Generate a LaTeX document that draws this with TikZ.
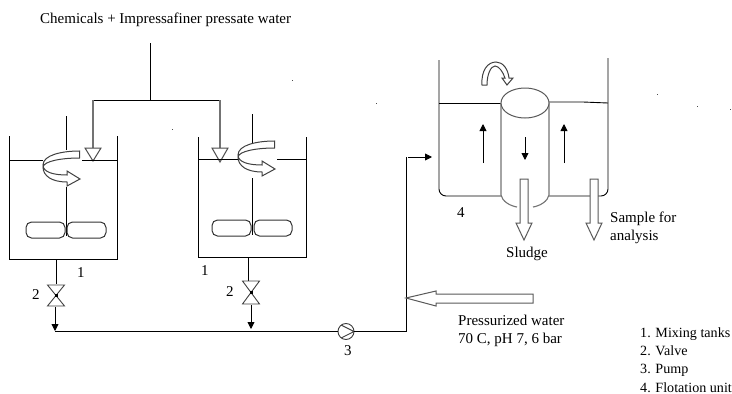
\documentclass[tikz,border=0pt]{standalone}
\usepackage{fontspec}
\setmainfont{Liberation Serif}
\usetikzlibrary{arrows.meta}
\tikzset{
  ln/.style={draw=black,line width=0.9pt},
  grayln/.style={draw=black!55,line width=1.1pt},
  flow/.style={ln,-{Triangle[length=7pt,width=7pt]}},
  hollow/.style={draw=black!65,line width=1pt,fill=white,line join=miter},
  lab/.style={anchor=base west,inner sep=0pt,font=\fontsize{15}{16}\selectfont},
  leg/.style={anchor=base west,inner sep=0pt,font=\fontsize{14.1}{16}\selectfont},
  imp/.style={draw=black!80,line width=1pt,fill=white,rounded corners=5.5pt}
}
\newcommand{\myswirl}[2]{%
  \begin{scope}[shift={(#1,#2)}]
    \path[hollow,draw=black!75] (-0.5,-28) .. controls (-18,-28) and (-37,-24) .. (-37,-14)
      .. controls (-37,-7) and (-27,-4) .. (-13,-4) -- (-13,-8) -- (0,0) -- (-13,7) -- (-13,3)
      .. controls (-28,3) and (-37,-3) .. (-37,-12)
      .. controls (-36,-18) and (-18,-21) .. (-0.5,-21) -- cycle;
  \end{scope}}
\newcommand{\myvalve}[3]{%
  \draw[hollow,draw=black!75,line width=0.9pt] (#1-8.5,#2) -- (#1+8.5,#2) -- (#1-8.5,#3) -- (#1+8.5,#3) -- cycle;
  \fill ({#1-1.5},{(#2+#3)/2-1.5}) rectangle ++(3,3);}
\newcommand{\myspeck}[2]{\fill[black!70] (#1,#2) rectangle ++(1,1);}
\begin{document}
\begin{tikzpicture}[x=1pt,y=-1pt]
\useasboundingbox (0,0) rectangle (732,394);
% title and feed lines
\node[lab] (title) at (40,23) {Chemicals + Impressafiner pressate water};
\coordinate (feedtop) at (150,43);
\coordinate (feedj) at (150,100);
\coordinate (fl) at (93,100);
\coordinate (fr) at (220,100);
\coordinate (fld) at (93,148);
\coordinate (frd) at (220,148);
\draw[ln] (feedtop) -- (feedj);
\draw[ln] (fl) -- (fr);
\draw[grayln] (fl) -- (fld);
\draw[grayln] (fr) -- (frd);
\draw[hollow,draw=black!70] (85,148) -- (101,148) -- (93,161) -- cycle;
\draw[hollow,draw=black!70] (212,148) -- (228,148) -- (220,162) -- cycle;
% tank 1
\draw[ln] (9,136) -- (9,259) -- (117,259) -- (117,136);
\draw[ln] (9,160) -- (43,160);
\draw[ln] (82,160) -- (117,160);
\draw[ln] (66,116) -- (66,150);
\draw[ln] (66,187) -- (66,236);
\draw[imp] (26,222) rectangle (65,238);
\draw[imp] (67,222) rectangle (106,238);
\myswirl{80}{179}
% tank 2
\draw[ln] (198,137) -- (198,257) -- (306,257) -- (306,137);
\draw[ln] (198,159) -- (238,159);
\draw[ln] (277,159) -- (306,159);
\draw[ln] (252,114) -- (252,148);
\draw[ln] (252,178) -- (252,235);
\draw[imp] (212,220) rectangle (251,236);
\draw[imp] (254,220) rectangle (292,236);
\myswirl{275}{169}
% valves and outlets
\coordinate (s1a) at (56,259);
\coordinate (s1b) at (56,284);
\coordinate (s2a) at (248,257);
\coordinate (s2b) at (248,281);
\draw[ln] (s1a) -- (s1b);
\draw[ln] (s2a) -- (s2b);
\myvalve{56}{285}{306}
\myvalve{251}{281}{304}
\coordinate (o1a) at (55,307);
\coordinate (o1b) at (55,331);
\coordinate (o2a) at (251,305);
\coordinate (o2b) at (251,329);
\draw[flow] (o1a) -- (o1b);
\draw[flow] (o2a) -- (o2b);
% header and pump
\node[circle,draw=black!75,line width=0.9pt,fill=white,minimum size=16pt,inner sep=0pt] (pump) at (346,331.5) {};
\draw[draw=black!75,line width=0.9pt] (341,325) -- (354,331.5) -- (341,338);
\coordinate (hs) at (55,331.5);
\coordinate (rise) at (406,331.5);
\coordinate (risetop) at (406,157);
\coordinate (inlet) at (432,157);
\draw[ln] (hs) -- (pump.west);
\draw[ln] (pump.east) -- (rise) -- (risetop);
\draw[flow] (408,157) -- (inlet);
% pressurized water arrow
\draw[hollow] (406,298) -- (436,291) -- (436,294) -- (533,294) -- (533,303) -- (436,303) -- (436,306) -- cycle;
% flotation unit
\draw[ln,rounded corners=7pt] (439,60) -- (439,196) -- (501,196);
\draw[ln,rounded corners=7pt] (608,58) -- (608,196) -- (549,196);
\draw[ln] (439,103) -- (501,103);
\draw[ln] (549,102) -- (583,102) -- (608,103);
\draw[grayln] (501,103) -- (501,195) .. controls (502,201) and (510,206) .. (517,207);
\draw[grayln] (549,103) -- (549,195) .. controls (548,201) and (540,206) .. (533,207);
\draw[draw=black!65,line width=1pt,fill=white] (525,103) ellipse [x radius=24,y radius=15];
\draw[flow] (483,163) -- (483,124);
\draw[flow] (525,137) -- (525,160);
\draw[flow] (564,163) -- (564,124);
% sludge and sample arrows
\draw[hollow] (520,179) -- (528,179) -- (528,223) -- (532,223) -- (524,240) -- (516,223) -- (520,223) -- cycle;
\draw[hollow] (590,179) -- (598,179) -- (598,223) -- (602,223) -- (594,240) -- (586,223) -- (590,223) -- cycle;
% recirculation arrow
\path[hollow,draw=black!75] (482,85) .. controls (481,70) and (488,62) .. (496,62)
  .. controls (503,62) and (508,69) .. (509,78) -- (513,78) -- (507,85) -- (502,78) -- (505,78)
  .. controls (503,72) and (499,66) .. (495,66)
  .. controls (491,66) and (487,74) .. (487,85) -- cycle;
% stray specks printed in the picture
\myspeck{172}{129}
\myspeck{292}{80}
\myspeck{376}{103}
\myspeck{657}{94}
\myspeck{697}{106}
\myspeck{730}{109}
% labels
\node[lab] (n1a) at (77,277) {1};
\node[lab] (n1b) at (201,275) {1};
\node[lab] (n2a) at (32,299) {2};
\node[lab] (n2b) at (226,296) {2};
\node[lab] (n3) at (344,355) {3};
\node[lab] (n4) at (457,217) {4};
\node[lab] (sl) at (506,257) {Sludge};
\node[lab] (sa) at (610,222) {Sample for};
\node[lab] (an) at (610,240) {analysis};
\node[lab] (pw) at (458,325) {Pressurized water};
\node[lab] (pc) at (458,343) {70 C, pH 7, 6 bar};
\node[leg] (l1) at (640,337) {1. Mixing tanks};
\node[leg] (l2) at (640,355) {2. Valve};
\node[leg] (l3) at (640,373) {3. Pump};
\node[leg] (l4) at (640,392) {4. Flotation unit};
\end{tikzpicture}
\end{document}
